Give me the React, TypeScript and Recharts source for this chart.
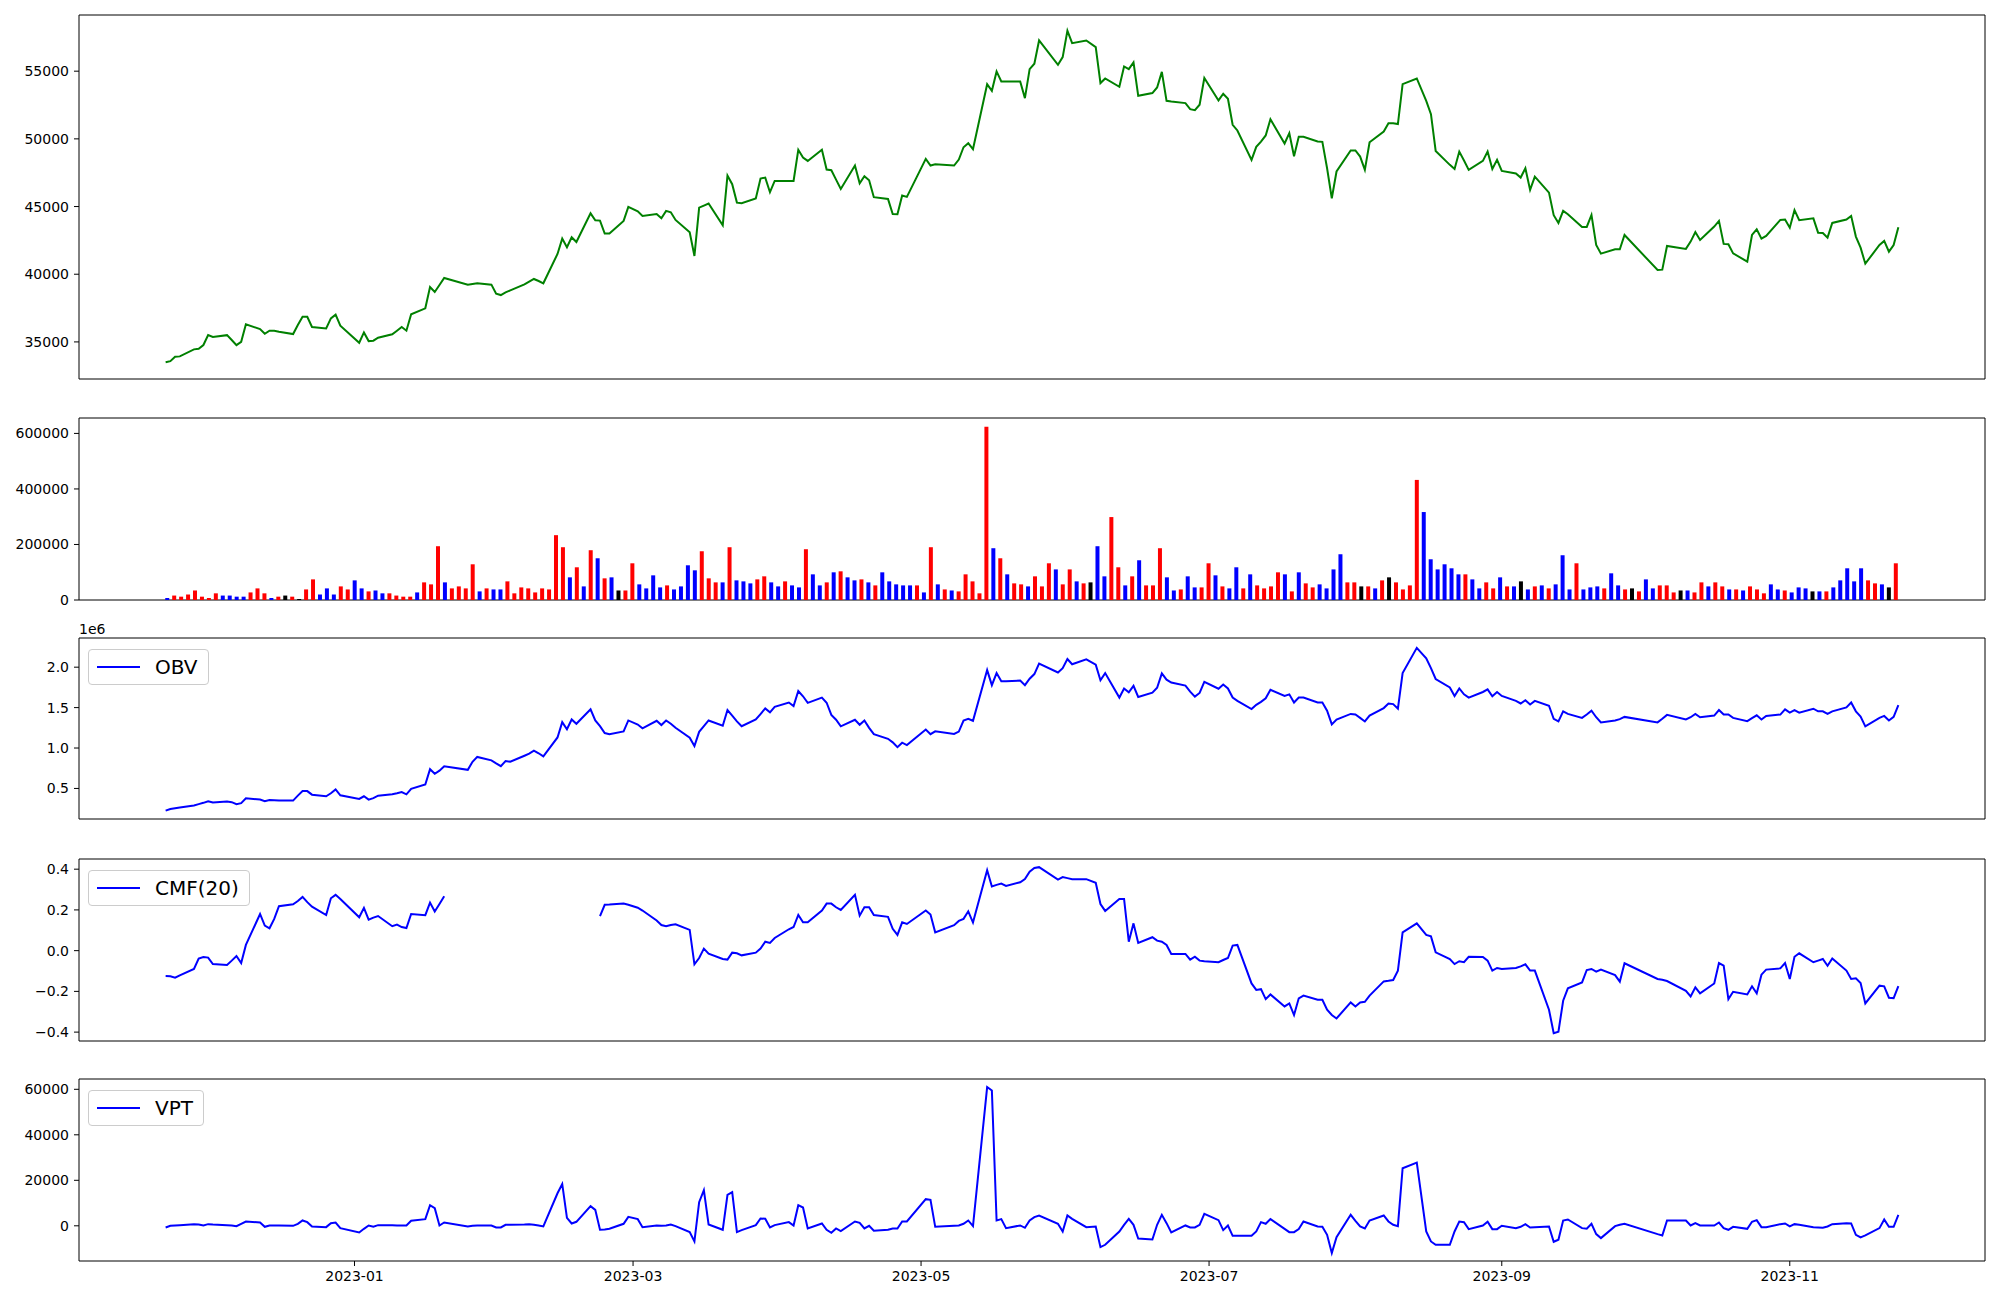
import React from 'react';
import { ComposedChart, Line, Bar, Cell, XAxis, YAxis, ReferenceArea, Legend } from 'recharts';

// trading calendar (KRX), 2022-11-22 .. 2023-11-24
const HOLIDAYS = [
  '2022-12-30', '2023-01-23', '2023-01-24', '2023-03-01', '2023-05-01', '2023-05-05', '2023-05-29',
  '2023-06-06', '2023-08-15', '2023-09-28', '2023-09-29', '2023-10-02', '2023-10-03', '2023-10-09',
];
const FIRST = Date.UTC(2022, 10, 22);
const LAST = Date.UTC(2023, 10, 24);
const MONTH_TICKS = [
  Date.UTC(2023, 0, 1), Date.UTC(2023, 2, 1), Date.UTC(2023, 4, 1),
  Date.UTC(2023, 6, 1), Date.UTC(2023, 8, 1), Date.UTC(2023, 10, 1),
];

const PRICE = [
  33500, 33580, 33900, 33930, 34450, 34500, 34770, 35500, 35360,
  35500, 35140, 34760, 35010, 36300, 35950, 35600, 35830, 35830, 35750,
  35580, 36250, 36860, 36860, 36100, 36000, 36740, 37010, 36200,
  34940, 35700, 35060, 35090, 35310, 35560, 35830, 36100, 35830, 37040,
  37480, 39060, 38690, 39200, 39720, 39230, 39280, 39330,
  39230, 38560, 38460, 38660, 38810, 39250, 39450, 39650, 39500, 39330,
  41500, 42630, 41990, 42730, 42380, 44500, 43990, 43960, 43000, 43000,
  43940, 44970, 44650, 44310,
  44450, 44130, 44680, 44580, 44010, 43100, 41350, 44920, 45070, 45220,
  43620, 47290, 46650, 45290, 45240, 45590, 47070, 47140, 46060, 46890,
  46890, 46890, 49190, 48620, 48370, 49190, 47730, 47680, 46990, 46300,
  48030, 46720, 47240, 46940, 45690, 45560, 44450, 44430, 45810, 45710,
  48520, 48030, 48130, 48030, 48470, 49380, 49680, 49240,
  54040, 53550, 54980, 54240, 54240, 54240, 53010, 55150, 55550, 57270,
  55470, 56040, 57990, 57070, 57270, 56780, 54120, 54460,
  53850, 55350, 55150, 55650, 53180, 53380, 53800, 54950, 52810, 52760,
  52640, 52190, 52120, 52520, 54490, 52840, 53330, 52960, 51040, 50620,
  48450, 49410, 49800, 50250, 51450, 49660, 50420, 48720, 50150, 50150,
  49800, 49780, 47830, 45610, 47590, 49140, 49140, 48690, 47710, 49750,
  50540, 51160, 51160, 51090, 54040, 54460, 52800, 51820, 49110,
  48080, 47780, 49060, 48400, 47710, 48370, 49060, 47780, 48450, 47630,
  47440, 47140, 47830, 46230, 47210, 46030, 44360, 43790, 44680, 44430,
  43490, 43490, 44380, 42160, 41520, 41840, 41840, 42900,
  40310, 40340, 42090, 41870, 42410, 43120, 42530,
  43520, 43940, 42240, 42210, 41540, 40930, 42900, 43320, 42630, 42830,
  44010, 44040, 43440, 44730, 43990, 44130, 43070, 43050, 42700, 43790,
  44040, 44310, 42780, 41960, 40780, 42160, 42460, 41670, 42160, 43470,
];

const VOLUME = [
  7200, 16000, 12000, 19800, 34300, 12000, 7200, 24000, 16000,
  16000, 12000, 12000, 27300, 41800, 24000, 7200, 12000, 16000, 12000,
  3600, 38100, 74300, 19800, 41800, 19800, 49000, 38100, 70700,
  41800, 31000, 34300, 24000, 24000, 16000, 12000, 12000, 27300, 63500,
  56300, 193700, 63500, 41800, 49000, 41800, 128600, 31000,
  41800, 38100, 38100, 67100, 24000, 45400, 41800, 27300, 41800, 38100,
  233500, 190100, 81600, 117800, 49000, 179300, 150300, 78000, 81600, 34300,
  34300, 132200, 56300, 41800,
  88800, 45400, 52600, 38100, 49000, 125000, 106900, 175600, 78000, 63500,
  63500, 190100, 70700, 67100, 59900, 74300, 85200, 63500, 49000, 67100,
  52600, 45400, 182900, 92400, 52600, 63500, 99700, 103300, 81600, 70700,
  74300, 63500, 52600, 99700, 67100, 56300, 52600, 52600, 52600, 27300,
  190100, 56300, 38100, 34300, 31000, 92400, 67100, 24000,
  624000, 186500, 150300, 92400, 59900, 56300, 49000, 85200, 49000, 132200,
  110200, 56300, 110200, 67100, 59900, 63500, 193700, 85200,
  298700, 117800, 52600, 85200, 143100, 52600, 52600, 186500, 81600, 34300,
  38100, 85200, 45400, 45400, 132200, 88800, 49000, 41800, 117800, 41800,
  92400, 52600, 41800, 49000, 99700, 92400, 31000, 99700, 59900, 45400,
  56300, 41800, 110200, 164800, 63500, 63500, 49000, 49000, 41800, 70700,
  81600, 63500, 38100, 52600, 432500, 316800, 146700, 110200, 128600,
  114200, 92400, 92400, 74300, 41800, 63500, 41800, 81600, 49000, 49000,
  67100, 38100, 49000, 52600, 41800, 56300, 161200, 38100, 132200, 38100,
  45400, 49000, 41800, 96100, 52600, 38100, 41800, 31000,
  74300, 41800, 52600, 52600, 27300, 34300, 34300,
  27300, 63500, 49000, 63500, 49000, 38100, 38100, 34300, 49000, 38100,
  24000, 56300, 38100, 34300, 27300, 45400, 41800, 31000, 31000, 31000,
  45400, 70700, 114200, 67100, 114200, 70700, 59900, 56300, 45400, 132200,
];

// r = up day, b = down day, k = unchanged
const VOLUME_SIDE =
  'brrrrrrrbb' + 'bbrrrbrkrk' + 'rrbbbrrbbr' + 'bbrrrrbrrr' + 'brrrrbrbbr' +
  'rrrrrrrrbr' + 'brbrbkrrbb' + 'bbrbbbbrrr' + 'brbbbrrbbr' + 'bbrbbrbrbb' +
  'rbrbbbbbrb' + 'rbrbrrrrrb' + 'rbrrbrrrbr' + 'rbrkbbrrbr' + 'brrrbbrbbr' +
  'rbrbbrbrrr' + 'rbrbrrbbbb' + 'rrkrbrkrrr' + 'rbbbbbbrbb' + 'rrbrbkbrbr' +
  'bbbrbbbrbb' + 'rkrbbrrrkb' + 'rrbrrbrbrr' + 'rbbrbbbkbr' + 'bbbbbrrbkr';
const SIDE_COLORS: Record<string, string> = { r: '#ff0000', b: '#0000ff', k: '#000000' };

// OBV in thousands
const OBV_K = [
  225, 245, 255, 265, 290, 306, 322, 342, 326,
  338, 330, 306, 318, 378, 362, 342, 358, 355, 350,
  350, 411, 467, 467, 423, 403, 440, 487, 415,
  370, 403, 362, 380, 411, 427, 440, 455, 427, 495,
  548, 738, 682, 720, 775, 730, 830, 890,
  847, 810, 775, 840, 830, 904, 930, 968, 935, 896,
  1131, 1320, 1232, 1353, 1300, 1478, 1341, 1270, 1185, 1170,
  1205, 1341, 1290, 1244,
  1337, 1284, 1341, 1300, 1250, 1127, 1025, 1200, 1270, 1341,
  1276, 1470, 1400, 1330, 1270, 1353, 1420, 1490, 1442, 1510,
  1563, 1519, 1705, 1640, 1559, 1624, 1560, 1410, 1350, 1268,
  1349, 1288, 1341, 1250, 1171, 1114, 1070, 1010, 1066, 1037,
  1228, 1171, 1207, 1175, 1203, 1340, 1361, 1337,
  1964, 1778, 1927, 1826, 1826, 1834, 1778, 1858, 1915, 2044,
  1935, 1988, 2101, 2036, 2097, 2032, 1838, 1927,
  1624, 1737, 1689, 1769, 1632, 1685, 1745, 1923, 1846, 1810,
  1773, 1697, 1636, 1681, 1818, 1733, 1786, 1737, 1624, 1583,
  1482, 1535, 1571, 1616, 1721, 1644, 1664, 1563, 1624, 1624,
  1563, 1563, 1462, 1292, 1353, 1422, 1414, 1373, 1329, 1401,
  1494, 1551, 1543, 1486, 1927, 2239, 2109, 1988, 1854,
  1749, 1644, 1737, 1664, 1624, 1693, 1725, 1640, 1693, 1644,
  1583, 1551, 1592, 1539, 1583, 1523, 1361, 1329, 1454, 1422,
  1373, 1414, 1462, 1381, 1317, 1341, 1357, 1385,
  1317, 1361, 1410, 1353, 1381, 1422, 1381,
  1401, 1470, 1414, 1414, 1373, 1333, 1369, 1405, 1353, 1397,
  1414, 1478, 1438, 1470, 1438, 1486, 1454, 1454, 1422, 1454,
  1503, 1563, 1454, 1389, 1268, 1373, 1397, 1341, 1385, 1531,
];

const CMF = [
  -0.125, -0.126, -0.133, -0.121, -0.09, -0.039, -0.031, -0.034, -0.066,
  -0.07, -0.049, -0.026, -0.061, 0.028, 0.18, 0.123, 0.11, 0.156, 0.218,
  0.228, 0.244, 0.264, 0.238, 0.216, 0.175, 0.257, 0.274, 0.254,
  0.164, 0.21, 0.152, 0.162, 0.17, 0.12, 0.128, 0.116, 0.111, 0.18,
  0.174, 0.236, 0.192, 0.229, 0.267, null, null, null,
  null, null, null, null, null, null, null, null, null, null,
  null, null, null, null, null, null, null, 0.169, 0.225, 0.226,
  0.231, 0.225, 0.211, 0.197,
  0.148, 0.126, 0.12, 0.126, 0.129, 0.102, -0.067, -0.036, 0.01, -0.015,
  -0.041, -0.044, -0.01, -0.013, -0.023, -0.01, 0.01, 0.044, 0.038, 0.062,
  0.105, 0.116, 0.175, 0.139, 0.139, 0.197, 0.231, 0.231, 0.213, 0.2,
  0.274, 0.172, 0.213, 0.213, 0.175, 0.166, 0.107, 0.077, 0.139, 0.131,
  0.197, 0.177, 0.09, 0.125, 0.146, 0.156, 0.193, 0.138,
  0.395, 0.315, 0.323, 0.329, 0.318, 0.336, 0.352, 0.388, 0.406, 0.41,
  0.349, 0.361, 0.356, 0.351, 0.351, 0.333, 0.229, 0.195,
  0.254, 0.254, 0.044, 0.134, 0.038, 0.066, 0.049, 0.044, 0.028, -0.016,
  -0.016, -0.044, -0.03, -0.049, -0.052, -0.057, -0.046, -0.036, 0.025, 0.028,
  -0.161, -0.193, -0.189, -0.238, -0.215, -0.274, -0.259, -0.316, -0.234, -0.221,
  -0.241, -0.241, -0.29, -0.316, -0.333, -0.254, -0.274, -0.254, -0.251, -0.221,
  -0.151, -0.148, -0.144, -0.098, 0.09, 0.134, 0.077, 0.07, -0.008,
  -0.041, -0.066, -0.052, -0.057, -0.03, -0.031, -0.049, -0.098, -0.085, -0.09,
  -0.085, -0.077, -0.067, -0.098, -0.098, -0.29, -0.405, -0.398, -0.246, -0.185,
  -0.156, -0.095, -0.09, -0.103, -0.093, -0.12, -0.152, -0.062,
  -0.139, -0.143, -0.149, -0.197, -0.225, -0.18, -0.21,
  -0.161, -0.061, -0.074, -0.238, -0.202, -0.215, -0.175, -0.21, -0.118, -0.093,
  -0.087, -0.061, -0.139, -0.03, -0.013, -0.057, -0.049, -0.041, -0.074, -0.038,
  -0.098, -0.139, -0.136, -0.159, -0.259, -0.172, -0.175, -0.231, -0.233, -0.174,
];

const VPT = [
  -730, 0, 150, 290, 730, 585, 146, 730, 585,
  290, 146, -146, 880, 1900, 1460, -440, 146, 146, 146,
  0, 880, 2340, 1610, -290, -585, 1170, 1460, -1020,
  -2930, -1320, 146, -440, 290, 290, 146, 146, 146, 2190,
  2930, 9070, 7750, 146, 1460, -290, 0, 146,
  146, -730, -730, 440, 440, 585, 730, 440, 146, -290,
  14300, 18400, 3510, 1020, 1760, 8630, 7020, -1760, -1610, -1320,
  880, 3950, 2930, -585,
  146, 0, 146, 585, -146, -2780, -6880, 10390, 15650, 585,
  -1760, 13600, 14780, -2780, -1900, 290, 3220, 3070, -730, 290,
  1610, 146, 9070, 8050, -1170, 1020, -1760, -3070, -1170, -2340,
  1900, 1320, -1170, 0, -2190, -1760, -1170, -1170, 1900, 1900,
  11700, 11410, -440, 0, 146, 880, 2340, -146,
  61000, 59500, 2340, 2930, -1020, 146, -880, 2340, 3800, 4540,
  880, -2490, 4540, 3070, -585, -290, -9360, -8340,
  -2490, 440, 3070, 440, -5560, -6000, 440, 4830, 1170, -2930,
  146, -730, -730, 440, 5270, 2490, -1900, 146, -4390, -4390,
  -4390, -2490, 1610, 880, 2930, -1320, -2780, -2780, -1460, 1900,
  -290, -440, -3950, -12000, -4970, 4830, 2190, -290, -1170, 2340,
  4540, 1900, 440, -146, 25300, 27800, -2490, -6880, -8340,
  -8340, -2490, 1900, 1610, -1460, 146, 1760, -1460, -1460, 0,
  -1020, -440, 730, -730, -585, -290, -7020, -6140, 2340, 2780,
  -1020, -1320, 880, -3660, -5410, -146, 440, 880,
  -3660, -4240, 2340, 2340, 146, 1170, 146,
  146, 1460, -1020, -1760, -440, -1320, 1760, 2490, -585, -585,
  730, 1020, -290, 730, 440, -585, -730, -880, -290, 730,
  1170, 1020, -3950, -5120, -4240, -1020, 2780, -440, -440, 4830,
];

const PRICE_TICKS = [35000, 40000, 45000, 50000, 55000];
const VOLUME_TICKS = [0, 200000, 400000, 600000];
const OBV_TICKS = [500000, 1000000, 1500000, 2000000];
const CMF_TICKS = [-0.4, -0.2, 0, 0.2, 0.4];
const VPT_TICKS = [0, 20000, 40000, 60000];

const DAY = 86400000;
const tradingDays: number[] = [];
for (let t = FIRST; t <= LAST; t += DAY) {
  const d = new Date(t);
  const wd = d.getUTCDay();
  if (wd !== 0 && wd !== 6 && !HOLIDAYS.includes(d.toISOString().slice(0, 10))) tradingDays.push(t);
}

const rows = tradingDays.map((t, i) => ({
  t,
  i,
  price: PRICE[i],
  vol: VOLUME[i],
  color: SIDE_COLORS[VOLUME_SIDE[i]] ?? '#000',
  obv: OBV_K[i] * 1000,
  cmf: CMF[i],
  vpt: VPT[i],
}));

const span = LAST - FIRST;
const X_DOMAIN: [number, number] = [FIRST - 0.05 * span, LAST + 0.05 * span];
const n = rows.length;
const BAR_DOMAIN: [number, number] = [-0.3 - 0.05 * (n - 0.4), n - 1 + 0.3 + 0.05 * (n - 0.4)];

const FONT = 'DejaVu Sans, sans-serif';
const tickStyle = { fill: '#000', fontSize: 14, fontFamily: FONT };
const W = 2000;
// panels without an x axis get 10px below the frame so the lowest tick label is not clipped
const MARGIN = { top: 5, right: 15, bottom: 10, left: 4 };

function LegendBox({ label }: { label: string }) {
  return (
    <div style={{
      display: 'flex', alignItems: 'center', height: 34, padding: '0 10px 0 8px',
      border: '1px solid #cccccc', borderRadius: 4, background: 'rgba(255,255,255,0.8)',
      fontFamily: FONT, fontSize: 20, color: '#000', whiteSpace: 'nowrap',
    }}>
      <span style={{ display: 'inline-block', width: 43, borderTop: '2px solid #0000ff', marginRight: 15 }} />
      <span>{label}</span>
    </div>
  );
}

function yAxis(domain: [number, number], ticks: number[], fmt?: (v: number) => string) {
  return (
    <YAxis type="number" domain={domain} allowDataOverflow ticks={ticks} interval={0} width={75}
      tick={tickStyle} tickSize={5} tickMargin={5} axisLine={false} stroke="#000" tickFormatter={fmt} />
  );
}

function frame(x: [number, number], y: [number, number]) {
  return <ReferenceArea x1={x[0]} x2={x[1]} y1={y[0]} y2={y[1]} fill="none" stroke="#000" strokeWidth={1} ifOverflow="visible" />;
}

function legend(label: string) {
  return (
    <Legend layout="horizontal" verticalAlign="middle" align="center"
      wrapperStyle={{ left: 88, top: 16, width: 'auto' }} content={() => <LegendBox label={label} />} />
  );
}

const minus = (s: string) => s.replace('-', '\u2212');

export default function App() {
  const priceY: [number, number] = [32260, 59150];
  const volY: [number, number] = [0, 655500];
  const obvY: [number, number] = [122000, 2361000];
  const cmfY: [number, number] = [-0.4436, 0.45];
  const vptY: [number, number] = [-15470, 64530];

  return (
    <div style={{ position: 'absolute', left: 0, top: 0, width: W, height: 1300, background: '#fff' }}>
      <div style={{ position: 'absolute', left: 0, top: 10 }}>
        <ComposedChart width={W} height={379} data={rows} margin={MARGIN}>
          <XAxis dataKey="t" type="number" domain={X_DOMAIN} allowDataOverflow hide />
          {yAxis(priceY, PRICE_TICKS)}
          <Line type="linear" dataKey="price" stroke="#008000" strokeWidth={2} dot={false} activeDot={false} isAnimationActive={false} />
          {frame(X_DOMAIN, priceY)}
        </ComposedChart>
      </div>

      <div style={{ position: 'absolute', left: 0, top: 413 }}>
        <ComposedChart width={W} height={197} data={rows} margin={MARGIN}>
          <XAxis dataKey="i" type="number" domain={BAR_DOMAIN} allowDataOverflow hide />
          {yAxis(volY, VOLUME_TICKS)}
          <Bar dataKey="vol" barSize={4} isAnimationActive={false}>
            {rows.map((r) => <Cell key={r.i} fill={r.color} />)}
          </Bar>
          {frame(BAR_DOMAIN, volY)}
        </ComposedChart>
      </div>

      <div style={{ position: 'absolute', left: 79, top: 621, fontFamily: FONT, fontSize: 14, lineHeight: '16px', color: '#000' }}>1e6</div>
      <div style={{ position: 'absolute', left: 0, top: 633 }}>
        <ComposedChart width={W} height={196} data={rows} margin={MARGIN}>
          <XAxis dataKey="t" type="number" domain={X_DOMAIN} allowDataOverflow hide />
          {yAxis(obvY, OBV_TICKS, (v) => (v / 1e6).toFixed(1))}
          <Line type="linear" dataKey="obv" name="OBV" stroke="#0000ff" strokeWidth={2} dot={false} activeDot={false} isAnimationActive={false} />
          {frame(X_DOMAIN, obvY)}
          {legend('OBV')}
        </ComposedChart>
      </div>

      <div style={{ position: 'absolute', left: 0, top: 854 }}>
        <ComposedChart width={W} height={197} data={rows} margin={MARGIN}>
          <XAxis dataKey="t" type="number" domain={X_DOMAIN} allowDataOverflow hide />
          {yAxis(cmfY, CMF_TICKS, (v) => minus(v.toFixed(1)))}
          <Line type="linear" dataKey="cmf" name="CMF(20)" stroke="#0000ff" strokeWidth={2} dot={false} activeDot={false} isAnimationActive={false} />
          {frame(X_DOMAIN, cmfY)}
          {legend('CMF(20)')}
        </ComposedChart>
      </div>

      <div style={{ position: 'absolute', left: 0, top: 1074 }}>
        <ComposedChart width={W} height={222} data={rows} margin={{ ...MARGIN, bottom: 5 }}>
          <XAxis dataKey="t" type="number" domain={X_DOMAIN} allowDataOverflow ticks={MONTH_TICKS} interval={0}
            height={30} tick={tickStyle} tickSize={5} tickMargin={5} axisLine={false} stroke="#000"
            tickFormatter={(v: number) => new Date(v).toISOString().slice(0, 7)} />
          {yAxis(vptY, VPT_TICKS)}
          <Line type="linear" dataKey="vpt" name="VPT" stroke="#0000ff" strokeWidth={2} dot={false} activeDot={false} isAnimationActive={false} />
          {frame(X_DOMAIN, vptY)}
          {legend('VPT')}
        </ComposedChart>
      </div>
    </div>
  );
}
